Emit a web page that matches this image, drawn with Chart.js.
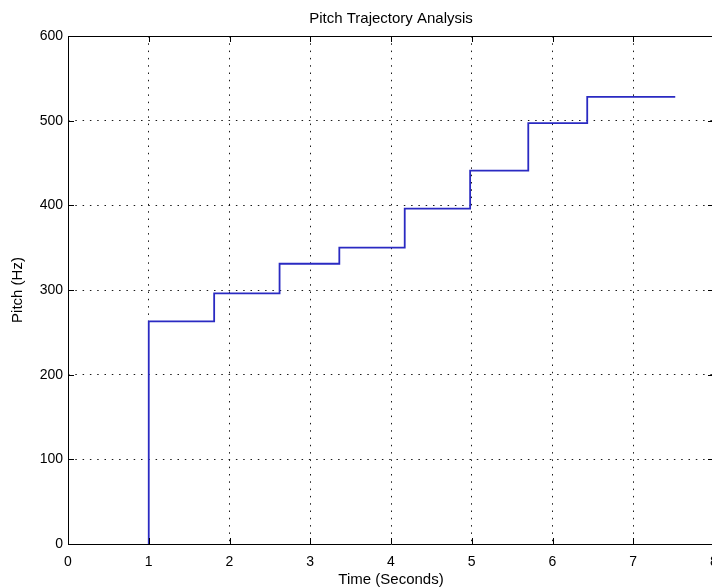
<!DOCTYPE html>
<html>
<head>
<meta charset="utf-8">
<script src="https://cdn.jsdelivr.net/npm/chart.js@4/dist/chart.umd.min.js"></script>
<style>
  html, body { margin: 0; padding: 0; background: #fff; overflow: hidden; width: 712px; height: 588px; }
  #wrap { position: absolute; left: 0; top: 0; width: 740px; height: 588px; }
</style>
</head>
<body>
<div id="wrap"><canvas id="c" width="740" height="588"></canvas></div>
<script>
// Data
const times   = [1, 1, 1.81, 2.62, 3.36, 4.17, 4.98, 5.70, 6.43, 7.52];
const pitches = [0, 263, 296, 331, 350, 396, 441, 497, 528, 528];
const xTicks = [0, 1, 2, 3, 4, 5, 6, 7, 8];
const yTicks = [0, 100, 200, 300, 400, 500, 600];
const chartTitle = 'Pitch Trajectory Analysis';
const xTitle = 'Time (Seconds)';
const yTitle = 'Pitch (Hz)';

const FONT = '"Liberation Sans", Arial, Helvetica, sans-serif';

const boxPlugin = {
  id: 'boxPlugin',
  afterDatasetsDraw(chart) {
    const ctx = chart.ctx;
    const a = chart.chartArea;
    const xs = chart.scales.x, ys = chart.scales.y;
    ctx.save();
    ctx.setLineDash([]);
    ctx.strokeStyle = '#000';
    ctx.lineWidth = 1;
    ctx.beginPath();
    ctx.rect(Math.round(a.left) + 0.5, Math.round(a.top) + 0.5,
             Math.round(a.right - a.left), Math.round(a.bottom - a.top));
    ctx.stroke();
    const tl = 6;
    ctx.beginPath();
    xTicks.forEach(v => {
      const px = Math.round(xs.getPixelForValue(v)) + 0.5;
      ctx.moveTo(px, a.top); ctx.lineTo(px, a.top + tl);
      ctx.moveTo(px, a.bottom); ctx.lineTo(px, a.bottom - tl);
    });
    yTicks.forEach(v => {
      const py = Math.round(ys.getPixelForValue(v)) + 0.5;
      ctx.moveTo(a.left, py); ctx.lineTo(a.left + tl, py);
      ctx.moveTo(a.right, py); ctx.lineTo(a.right - tl, py);
    });
    ctx.stroke();
    ctx.restore();
  }
};

new Chart(document.getElementById('c'), {
  type: 'line',
  data: {
    datasets: [{
      data: times.map((t, i) => ({ x: t, y: pitches[i] })),
      borderColor: '#2a2ac2',
      borderWidth: 1.8,
      pointRadius: 0,
      stepped: true,
      fill: false,
      tension: 0
    }]
  },
  plugins: [boxPlugin],
  options: {
    responsive: false,
    animation: false,
    layout: { padding: { left: 0, right: 26, top: 0, bottom: 0 } },
    plugins: {
      legend: { display: false },
      tooltip: { enabled: false },
      title: {
        display: true,
        text: chartTitle,
        fullSize: false,
        color: '#000',
        font: { family: FONT, size: 15, weight: 'normal', lineHeight: 16 / 15 },
        padding: { top: 11, bottom: 9 }
      }
    },
    scales: {
      x: {
        type: 'linear',
        min: 0, max: 8,
        afterFit: s => { s.height = 44; },
        afterBuildTicks: s => { s.ticks = xTicks.map(v => ({ value: v })); },
        border: { display: false, dash: [1.5, 5.8] },
        grid: {
          color: 'rgba(0,0,0,0.9)',
          lineWidth: 1,
          drawTicks: false
        },
        ticks: {
          color: '#000',
          padding: 10,
          maxRotation: 0,
          font: { family: FONT, size: 14 }
        },
        title: {
          display: true,
          text: xTitle,
          color: '#000',
          font: { family: FONT, size: 15, lineHeight: 16 / 15 },
          padding: { top: 0, bottom: 0 }
        }
      },
      y: {
        type: 'linear',
        min: 0, max: 600,
        afterFit: s => { s.width = 68; },
        afterBuildTicks: s => { s.ticks = yTicks.map(v => ({ value: v })); },
        border: { display: false, dash: [1.5, 5.8] },
        grid: {
          color: 'rgba(0,0,0,0.9)',
          lineWidth: 1,
          drawTicks: false
        },
        ticks: {
          color: '#000',
          padding: 5,
          font: { family: FONT, size: 14 }
        },
        title: {
          display: true,
          text: yTitle,
          color: '#000',
          font: { family: FONT, size: 15, lineHeight: 16 / 15 },
          padding: { top: 10, bottom: 0 }
        }
      }
    }
  }
});
</script>
</body>
</html>
